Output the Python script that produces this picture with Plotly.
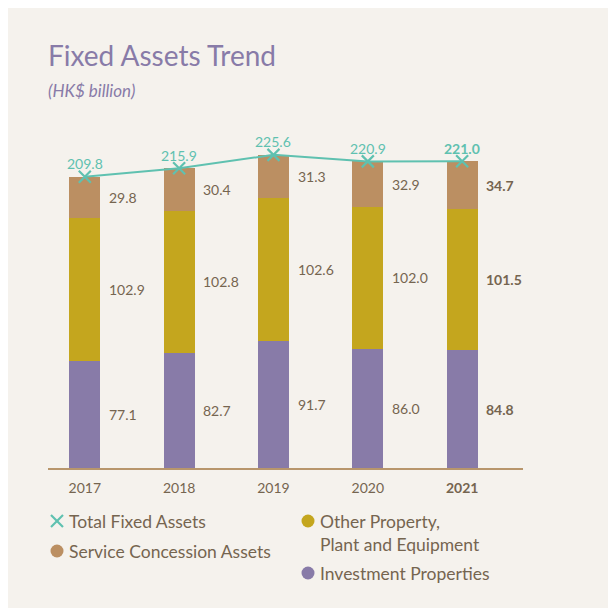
import plotly.graph_objects as go

years = ["2017", "2018", "2019", "2020", "2021"]
tick_labels = ["2017", "2018", "2019", "2020", "<b>2021</b>"]
investment = [77.1, 82.7, 91.7, 86.0, 84.8]
other_ppe = [102.9, 102.8, 102.6, 102.0, 101.5]
service = [29.8, 30.4, 31.3, 32.9, 34.7]
total = [209.8, 215.9, 225.6, 220.9, 221.0]

PURPLE = "#887ba8"
GOLD = "#c4a61e"
BROWN = "#bb8f62"
TEAL = "#5fc1b0"
TEXT = "#756550"
PANEL = "#f5f2ed"
FONT = "Lato"

W, H = 608, 600
L, R = 40, 515
T, B = 113, 460
xs = list(range(len(years)))

def px(x):
    return (x - L) / (R - L)

def py(y):
    return (B - y) / (B - T)

fig = go.Figure()
fig.add_trace(go.Bar(x=xs, y=investment, marker=dict(color=PURPLE, line=dict(width=0)), width=0.33,
                     name="Investment Properties"))
fig.add_trace(go.Bar(x=xs, y=other_ppe, marker=dict(color=GOLD, line=dict(width=0)), width=0.33,
                     name="Other Property, Plant and Equipment"))
fig.add_trace(go.Bar(x=xs, y=service, marker=dict(color=BROWN, line=dict(width=0)), width=0.33,
                     name="Service Concession Assets"))
fig.add_trace(go.Scatter(x=xs, y=total, mode="lines+markers", name="Total Fixed Assets",
                         line=dict(color=TEAL, width=2),
                         marker=dict(symbol="x-thin", size=12, line=dict(color=TEAL, width=2.2))))

ann = []
for i in xs:
    bold = i == len(xs) - 1
    def fmt(v):
        s = f"{v:.1f}"
        return f"<b>{s}</b>" if bold else s
    bases = [0, investment[i], investment[i] + other_ppe[i]]
    for base, v in zip(bases, [investment[i], other_ppe[i], service[i]]):
        ann.append(dict(x=i + 0.165 + 0.07, y=base + v / 2, text=fmt(v), showarrow=False,
                        xanchor="left", yanchor="middle", font=dict(family=FONT, size=14, color=TEXT)))
    ann.append(dict(x=i, y=total[i], text=fmt(total[i]), showarrow=False, xanchor="center",
                    yanchor="middle", yshift=13, font=dict(family=FONT, size=14, color=TEAL)))

# title
ann.append(dict(xref="paper", yref="paper", x=px(38), y=py(47), text="Fixed Assets Trend", showarrow=False,
                xanchor="left", yanchor="middle", font=dict(family=FONT, size=28, color=PURPLE)))
ann.append(dict(xref="paper", yref="paper", x=px(38), y=py(82), text="<i>(HK$ billion)</i>", showarrow=False,
                xanchor="left", yanchor="middle", font=dict(family=FONT, size=17, color=PURPLE)))

# legend
legend_items = [
    (49, 513, "x", TEAL, "Total Fixed Assets"),
    (49, 543, "o", BROWN, "Service Concession Assets"),
    (300, 513, "o", GOLD, "Other Property,<br>Plant and Equipment"),
    (300, 565, "o", PURPLE, "Investment Properties"),
]
shapes = []
for cx, cy, kind, col, label in legend_items:
    if kind == "x":
        for d in (1, -1):
            shapes.append(dict(type="line", xref="paper", yref="paper", x0=px(cx - 6), x1=px(cx + 6),
                               y0=py(cy - 6 * d), y1=py(cy + 6 * d), line=dict(color=col, width=2.2)))
    else:
        shapes.append(dict(type="circle", xref="paper", yref="paper", x0=px(cx - 6.5), x1=px(cx + 6.5),
                           y0=py(cy + 6.5), y1=py(cy - 6.5), fillcolor=col, line=dict(width=0)))
    ann.append(dict(xref="paper", yref="paper", x=px(cx + 10), y=py(cy - 12), text=label, showarrow=False,
                    xanchor="left", yanchor="top", align="left",
                    font=dict(family=FONT, size=17.5, color=TEXT)))

fig.update_layout(
    width=W, height=H, barmode="stack", showlegend=False,
    paper_bgcolor=PANEL, plot_bgcolor="rgba(0,0,0,0)",
    margin=dict(l=L, r=W - R, t=T, b=H - B, pad=0),
    annotations=ann, shapes=shapes,
    font=dict(family=FONT, color=TEXT),
)
fig.update_xaxes(range=[-0.39, 4.645], tickmode="array", tickvals=xs, ticktext=tick_labels,
                 showline=True, linecolor="#b8966c", linewidth=1.5, showgrid=False, zeroline=False,
                 ticks="", ticklabelstandoff=6, tickfont=dict(family=FONT, size=14, color=TEXT))
fig.update_yaxes(range=[0, 250], visible=False, showgrid=False, zeroline=False)

fig.write_html("out.html")
